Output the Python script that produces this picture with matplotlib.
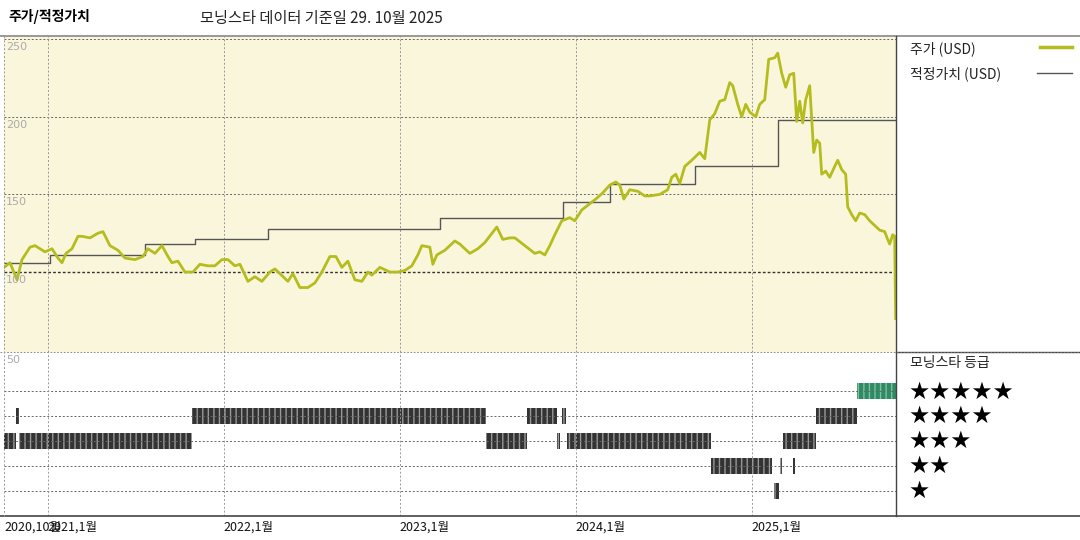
import matplotlib.pyplot as plt
from matplotlib.lines import Line2D

plt.rcParams['font.family'] = ['Noto Sans CJK KR', 'DejaVu Sans']

W, H = 1080, 540
X0, X1 = 4, 896          # plot area in pixels
x_start, x_end = 2020.75, 2025.82

# price (USD) as (pixel x, value)
price_px = [
    (4, 103), (10, 106), (17, 95), (22, 108), (30, 116), (35, 117), (45, 113), (52, 115),
    (58, 109), (62, 106), (66, 112), (72, 115), (78, 123), (82, 123), (90, 122), (98, 125),
    (103, 126), (110, 117), (118, 114), (125, 109), (135, 108), (143, 110), (148, 115),
    (155, 112), (162, 117), (168, 110), (172, 106), (178, 107), (185, 100), (193, 100),
    (200, 105), (208, 104), (215, 104), (222, 108), (228, 108), (235, 104), (240, 105),
    (248, 94), (255, 97), (262, 94), (270, 100), (275, 102), (280, 99), (288, 94), (293, 99),
    (300, 90), (308, 90), (315, 93), (322, 100), (330, 110), (336, 110), (342, 103),
    (348, 107), (355, 95), (362, 94), (368, 100), (372, 98), (380, 103), (390, 100),
    (398, 100), (405, 101), (412, 104), (418, 111), (422, 117), (430, 116), (433, 105),
    (437, 111), (445, 114), (455, 120), (460, 118), (470, 112), (478, 115), (485, 119),
    (497, 129), (503, 121), (510, 122), (515, 122), (525, 117), (535, 112), (540, 113),
    (545, 111), (550, 117), (555, 124), (562, 133), (570, 135), (575, 133), (582, 140),
    (590, 144), (596, 147), (603, 151), (610, 156), (616, 158), (620, 156), (624, 147),
    (630, 153), (638, 152), (645, 149), (650, 149), (660, 150), (668, 153), (672, 161),
    (676, 163), (680, 157), (685, 168), (692, 172), (700, 177), (705, 173), (710, 198),
    (715, 202), (720, 210), (725, 211), (730, 222), (733, 220), (738, 208), (742, 200),
    (746, 208), (750, 203), (756, 200), (760, 208), (765, 211), (769, 237), (775, 238),
    (778, 241), (782, 228), (786, 219), (790, 227), (794, 228), (797, 197), (800, 210),
    (803, 196), (806, 211), (810, 220), (814, 177), (817, 185), (820, 183), (822, 163),
    (826, 165), (830, 161), (835, 168), (838, 172), (842, 166), (846, 163), (848, 142),
    (852, 137), (856, 133), (860, 138), (865, 137), (870, 133), (875, 130), (880, 127),
    (885, 126), (888, 121), (890, 118), (893, 124), (895, 123), (896, 70),
]

# fair value steps: (start pixel, value)
fair_px = [(4, 106), (50, 111), (145, 118), (195, 121), (268, 128), (440, 135),
           (563, 145), (610, 157), (695, 168), (778, 198), (896, 198)]

# star rating segments (pixel start, pixel end)
rating_px = {
    5: [(857, 896)],
    4: [(16, 19), (192, 486), (527, 557), (562, 566), (816, 857)],
    3: [(4, 16), (19, 192), (486, 527), (557, 560), (567, 711), (783, 816)],
    2: [(711, 772), (780, 782), (793, 795)],
    1: [(774, 779)],
}

year_ticks = [2020.75, 2021, 2022, 2023, 2024, 2025]
year_labels = ['2020,10월', '2021,1월', '2022,1월', '2023,1월', '2024,1월', '2025,1월']


def px2yr(p):
    return 2021 + (p - 48) / 176.0


price_x = [px2yr(p) for p, _ in price_px]
price_y = [v for _, v in price_px]
fair_x = [px2yr(p) for p, _ in fair_px]
fair_y = [v for _, v in fair_px]

fig = plt.figure(figsize=(W / 100, H / 100), dpi=100)


def box(l, t, r, b):
    return [l / W, 1 - b / H, (r - l) / W, (b - t) / H]


ax = fig.add_axes(box(X0, 36, X1, 352))
ax.set_facecolor('#faf6dc')
ax.set_xlim(x_start, x_end)
ax.set_ylim(48.5, 252)
for v in [250, 200, 150]:
    ax.axhline(v, color='#666666', ls=(0, (2, 2)), lw=0.7)
ax.axhline(100, color='#333333', ls=(0, (2, 1.5)), lw=1.0)
for t in year_ticks[1:]:
    ax.axvline(t, color='#999999', ls=(0, (2, 2)), lw=0.7)
ax.step(fair_x, fair_y, where='post', color='#555555', lw=1.0)
ax.plot(price_x, price_y, color='#b5bd1e', lw=2.0)
for v in [250, 200, 150, 100]:
    ax.text(x_start + 0.01, v - 2, str(v), color='#aaaaaa', fontsize=8, va='top', ha='left',
            family='DejaVu Sans')
ax.set_xticks([])
ax.set_yticks([])
for s in ax.spines.values():
    s.set_visible(False)

ax2 = fig.add_axes(box(X0, 352, X1, 516))
ax2.set_xlim(x_start, x_end)
ax2.set_ylim(0.0, 6.55)
for r in range(1, 6):
    ax2.axhline(r, color='#666666', ls=(0, (2, 2)), lw=0.7)
    for a, b in rating_px[r]:
        ax2.broken_barh([(px2yr(a), px2yr(b) - px2yr(a))], (r - 0.32, 0.64),
                        facecolor='#2e8b64' if r == 5 else '#333333',
                        edgecolor='#999999' if r != 5 else '#7fc0a0', hatch='|||', lw=0)
for t in year_ticks[1:]:
    ax2.axvline(t, color='#999999', ls=(0, (2, 2)), lw=0.7)
ax2.text(x_start + 0.01, 6.45, '50', color='#aaaaaa', fontsize=8, va='top', ha='left',
         family='DejaVu Sans')
ax2.set_xticks([])
ax2.set_yticks([])
for s in ax2.spines.values():
    s.set_visible(False)

for t, lab in zip(year_ticks, year_labels):
    ax2.text(t, -0.2, lab, fontsize=9, va='top', ha='left', color='#111111')

# frame lines
fig.add_artist(Line2D([0, 1], [1 - 36 / H] * 2, color='#888888', lw=1.2))
fig.add_artist(Line2D([0, 1], [1 - 516 / H] * 2, color='#444444', lw=1.2))
fig.add_artist(Line2D([X1 / W] * 2, [1 - 36 / H, 1 - 516 / H], color='#444444', lw=1.0))
fig.add_artist(Line2D([X1 / W, 1], [1 - 352 / H] * 2, color='#444444', lw=1.0))
fig.add_artist(Line2D([0, 1], [1 - 352 / H] * 2, color='#777777', lw=0.6, ls=(0, (2, 2))))
fig.add_artist(Line2D([4 / W] * 2, [1 - 36 / H, 1 - 516 / H], color='#999999', lw=0.7, ls=(0, (2, 2))))


def ft(x, y, s, **kw):
    fig.text(x / W, 1 - y / H, s, va='center', **kw)


ft(8, 17, '주가/적정가치', fontsize=10, fontweight='bold')
ft(200, 19, '모닝스타 데이터 기준일 29. 10월 2025', fontsize=11, color='#222222')
ft(910, 49, '주가 (USD)', fontsize=10, color='#222222')
fig.add_artist(Line2D([1040 / W, 1072 / W], [1 - 47 / H] * 2, color='#b5bd1e', lw=2.5))
ft(910, 74, '적정가치 (USD)', fontsize=10, color='#222222')
fig.add_artist(Line2D([1037 / W, 1072 / W], [1 - 73 / H] * 2, color='#555555', lw=1.0))
ft(910, 363, '모닝스타 등급', fontsize=10, color='#222222')
for r, y in zip([5, 4, 3, 2, 1], [392, 416, 441, 466, 491]):
    ft(908, y, '★' * r, fontsize=17, family=['DejaVu Sans'])

fig.savefig('out.png', dpi=100)
